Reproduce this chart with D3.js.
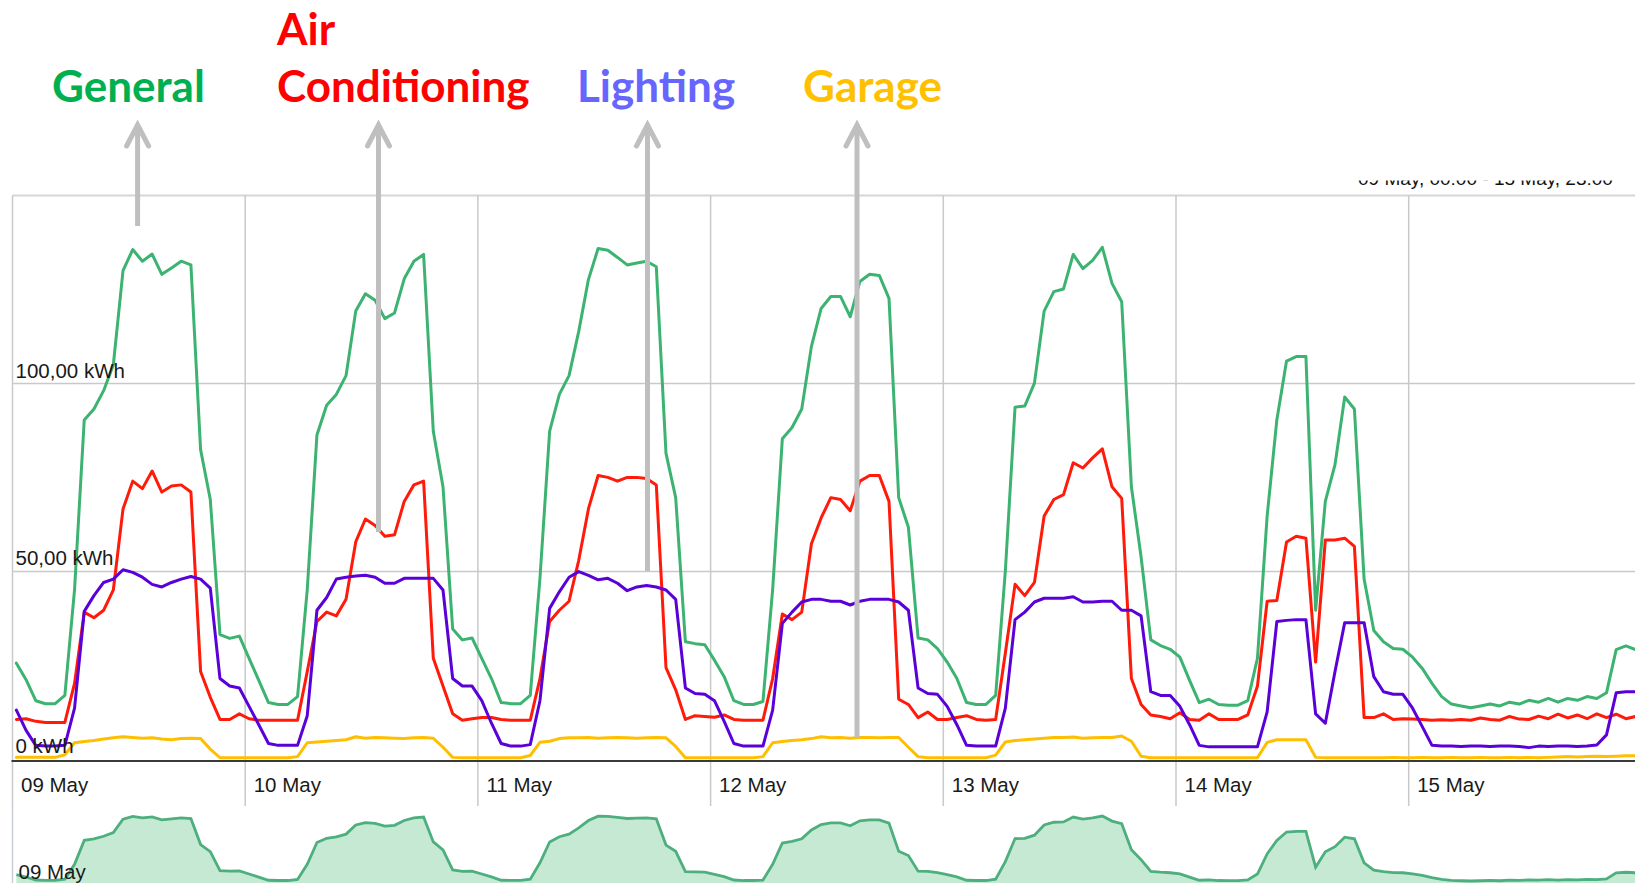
<!DOCTYPE html>
<html>
<head>
<meta charset="utf-8">
<script src="https://cdn.jsdelivr.net/npm/d3@7"></script>
<style>
  html, body { margin: 0; padding: 0; background: #ffffff; }
  svg { display: block; }
</style>
</head>
<body>
<svg id="chart" width="1635" height="883"></svg>
<script>
// ---------------- DATA (hourly kWh, 09 May 00:00 -> 15 May 23:00) ----------------
const dayLabels = ["09 May", "10 May", "11 May", "12 May", "13 May", "14 May", "15 May"];
const yTickValues = [0, 50, 100];
const yTickLabels = ["0 kWh", "50,00 kWh", "100,00 kWh"];
const seriesNames = ["General", "Air Conditioning", "Lighting", "Garage"];
const rangeTitle = "09 May, 00:00 - 15 May, 23:00";

const general = [
  25.4, 21, 15.4, 14.6, 14.6, 16.8, 45, 90.2, 93.1, 98, 104.9, 130, 135.6, 132.5, 134.4, 129, 130.7, 132.5, 131.5, 82.3, 69, 33, 32, 32.6,
  26.7, 20.8, 14.9, 14.4, 14.4, 16.5, 45, 86.2, 94.1, 97, 102, 119.2, 123.8, 122.1, 117.2, 118.7, 127.8, 132.5, 134.3, 87.2, 72.4, 34.5, 31.6, 32.1,
  26.7, 21.3, 14.9, 14.6, 14.6, 16.8, 48, 87.2, 97, 102, 113.8, 127.6, 135.9, 135.4, 133.5, 131.5, 132, 132.5, 131, 81.3, 69.5, 31.1, 30.6, 30.3,
  26.2, 21.8, 15.4, 14.4, 14.4, 15.2, 45, 85.2, 88.2, 93.1, 109.8, 119.9, 123.1, 123.1, 117.7, 127.1, 129, 128.7, 122.6, 69.5, 61.6, 32.1, 31.6, 29.3,
  25.7, 21.3, 14.9, 14.4, 14.4, 16.8, 50, 93.6, 93.9, 100, 119.2, 124.4, 125.1, 134.3, 130.5, 132.7, 136.2, 126.6, 121.7, 72.4, 53.7, 31.6, 30.1, 29.1,
  27, 20.8, 14.9, 15.8, 14.4, 14.2, 14.2, 15.4, 26.7, 64.6, 90.2, 105.9, 107.1, 107.1, 39.5, 68.5, 78.3, 96.3, 93.1, 47.8, 34.1, 31.1, 29.3, 29.1,
  27, 24, 20, 16.5, 14.5, 14, 13.5, 14, 14.5, 14, 15, 14.5, 15.5, 15, 16, 15, 16, 15.5, 16.5, 16, 17.5, 29, 30, 29
];

const airConditioning = [
  10.4, 10.6, 9.9, 9.6, 9.6, 9.6, 20, 39, 37.5, 39.5, 44.9, 66.5, 73.9, 71.9, 76.6, 71, 72.6, 72.9, 71, 23.2, 16.3, 10.4, 10.4, 11.9,
  10.6, 10.2, 10.2, 10.2, 10.2, 10.2, 23.2, 36.5, 39, 38, 42.4, 57.7, 63.8, 62.1, 59.2, 59.6, 68.5, 72.9, 73.9, 26.7, 19.3, 11.9, 10.2, 10.6,
  10.9, 10.9, 10.4, 10.2, 10.2, 10.2, 21.3, 36.5, 39.5, 41.9, 52.8, 66.5, 75.4, 74.9, 73.9, 74.9, 74.9, 74.6, 72.9, 24.2, 18.3, 10.4, 11.4, 11.2,
  11, 11.6, 10.4, 10.2, 10.2, 10.2, 21.3, 38.5, 37, 39, 57.2, 64.1, 69.5, 69, 66, 73.9, 75.4, 75.4, 68.5, 15.8, 14.4, 10.9, 12.4, 10.4,
  10.4, 10.9, 11.4, 10.4, 10.2, 10.4, 28.1, 46.4, 43.4, 46.9, 64.6, 69, 70.3, 78.8, 77.4, 80.1, 82.5, 72.4, 69.3, 21.3, 14.4, 11.6, 11.2, 10.6,
  12.2, 10.4, 10.2, 11.9, 10.4, 10.4, 10.4, 11.6, 19.3, 41.9, 42.1, 57.7, 59.2, 58.7, 25.7, 58.2, 58.2, 58.7, 56.5, 10.9, 10.9, 11.9, 10.4, 10.6,
  10.5, 10.4, 10.2, 10.3, 10.2, 10.4, 10.2, 10.8, 10.4, 10.2, 11.2, 10.5, 10.4, 11.3, 10.6, 11.8, 10.8, 11.6, 10.6, 11.9, 10.9, 11.8, 10.6, 11.2
];

const lighting = [
  12.9, 7.5, 3.5, 3.3, 3.3, 3.5, 13.4, 39.2, 43.4, 46.9, 47.8, 50.3, 49.6, 48.3, 46.4, 45.7, 46.9, 47.8, 48.5, 47.8, 45.4, 21.3, 19.3, 18.8,
  13.9, 9, 4, 3.5, 3.5, 3.5, 11.4, 39.5, 42.9, 47.8, 48.3, 48.6, 48.8, 48.3, 46.7, 46.7, 48, 48, 48, 48, 44.9, 21.3, 19.3, 19.3,
  15.4, 9.4, 4, 3.3, 3.3, 3.7, 15.4, 40, 44.4, 48.3, 49.8, 48.8, 47.6, 48, 46.7, 44.7, 45.7, 46.1, 45.7, 44.9, 42.4, 18.8, 17.3, 17.1,
  15.4, 9.9, 4, 3.3, 3.3, 3.3, 12.9, 36, 39, 41.7, 42.4, 42.4, 41.9, 41.9, 40.9, 41.9, 42.4, 42.4, 42.4, 41.7, 39.5, 18.8, 17.3, 17.1,
  13.9, 9, 3.5, 3.3, 3.3, 3.3, 13.4, 37, 39, 41.7, 42.7, 42.7, 42.7, 43.1, 41.7, 41.7, 41.9, 41.9, 39.5, 39.5, 38, 17.8, 16.8, 16.8,
  13.9, 9, 3.5, 3.1, 3.1, 3.1, 3.1, 3.1, 3.1, 12.4, 36.5, 36.8, 37, 37, 11.9, 9.4, 23.2, 36.2, 36.2, 36.2, 21.8, 17.8, 17.1, 17.1,
  13.4, 8.5, 3.5, 3.3, 3.3, 3.2, 3.3, 3.3, 3.2, 3.3, 3.3, 3.2, 2.9, 3.3, 3.2, 3.3, 3.3, 3.2, 3.3, 3.6, 6.3, 17.5, 17.8, 17.8
];

const garage = [
  0.3, 0.3, 0.3, 0.3, 0.3, 1.0, 4.2, 4.5, 4.8, 5.2, 5.5, 5.8, 5.6, 5.4, 5.5, 5.2, 5.0, 5.3, 5.4, 5.3, 2.5, 0.2, 0.2, 0.2,
  0.2, 0.2, 0.2, 0.2, 0.2, 0.5, 4.2, 4.4, 4.6, 4.8, 5.0, 5.8, 5.4, 5.6, 5.5, 5.4, 5.3, 5.5, 5.6, 5.4, 3.0, 0.3, 0.2, 0.2,
  0.2, 0.2, 0.2, 0.2, 0.2, 0.8, 4.3, 4.6, 5.3, 5.5, 5.5, 5.6, 5.4, 5.5, 5.6, 5.5, 5.4, 5.5, 5.6, 5.5, 3.2, 0.2, 0.2, 0.2,
  0.2, 0.2, 0.2, 0.2, 0.2, 0.5, 4.2, 4.5, 4.8, 5.0, 5.3, 5.8, 5.5, 5.6, 5.4, 5.6, 5.6, 5.5, 5.6, 5.6, 3.0, 0.5, 0.2, 0.2,
  0.2, 0.2, 0.2, 0.2, 0.2, 0.9, 4.4, 4.8, 5.0, 5.2, 5.4, 5.6, 5.6, 5.7, 5.4, 5.5, 5.6, 5.6, 6.0, 4.6, 0.6, 0.2, 0.2, 0.2,
  0.2, 0.2, 0.2, 0.2, 0.2, 0.2, 0.2, 0.2, 0.2, 4.3, 5.0, 5.0, 5.0, 5.0, 0.3, 0.2, 0.2, 0.2, 0.2, 0.2, 0.2, 0.2, 0.3, 0.2,
  0.2, 0.3, 0.2, 0.2, 0.3, 0.2, 0.2, 0.3, 0.2, 0.2, 0.3, 0.2, 0.3, 0.2, 0.3, 0.4, 0.5, 0.4, 0.5, 0.6, 0.5, 0.6, 0.7, 0.7
];

// ---------------- LAYOUT ----------------
const W = 1635, H = 883;
const plotLeft = 12.5, plotTop = 195.5, zeroY = 758.5, axisY = 761;
const dayWidth = 232.7;
const startT = Date.UTC(2015, 4, 9);
const endT = Date.UTC(2015, 4, 16);
const HOUR = 3600e3;

const svg = d3.select("#chart");

const x = d3.scaleUtc().domain([startT, endT]).range([plotLeft, plotLeft + 7 * dayWidth]);
const y = d3.scaleLinear().domain([0, 150]).range([zeroY, plotTop]);
const times = general.map((_, i) => new Date(startT + (i + 0.4) * HOUR));
const dayTicks = dayLabels.map((_, i) => new Date(startT + i * 24 * HOUR));

const gridColor = "#c9c9c9";

// Top border
svg.append("line").attr("x1", plotLeft).attr("x2", W).attr("y1", plotTop).attr("y2", plotTop)
  .attr("stroke", "#d6d6d6").attr("stroke-width", 2);

// Horizontal gridlines
svg.append("g").selectAll("line").data(yTickValues.filter(v => v > 0)).join("line")
  .attr("x1", plotLeft).attr("x2", W)
  .attr("y1", d => Math.round(y(d)) + 0.5).attr("y2", d => Math.round(y(d)) + 0.5)
  .attr("stroke", gridColor).attr("stroke-width", 1.5);

// Vertical day gridlines (extend below axis as ticks)
svg.append("g").selectAll("line").data(dayTicks).join("line")
  .attr("x1", d => x(d)).attr("x2", d => x(d))
  .attr("y1", plotTop).attr("y2", 806)
  .attr("stroke", gridColor).attr("stroke-width", 1.5);

// Navigator left border
svg.append("line").attr("x1", plotLeft).attr("x2", plotLeft).attr("y1", 806).attr("y2", H)
  .attr("stroke", "#c9ced6").attr("stroke-width", 1.5);

// Clip for plot
svg.append("clipPath").attr("id", "plotClip").append("rect")
  .attr("x", plotLeft).attr("y", plotTop - 5).attr("width", W - plotLeft).attr("height", axisY - plotTop + 5);

const line = d3.line().x((d, i) => x(times[i])).y(d => y(d)).curve(d3.curveLinear);

const seriesData = [
  { values: general, color: "#3cb371" },
  { values: airConditioning, color: "#ff1a0a" },
  { values: lighting, color: "#5a00d8" },
  { values: garage, color: "#ffbf00" }
];

const gLines = svg.append("g").attr("clip-path", "url(#plotClip)");
gLines.selectAll("path").data(seriesData).join("path")
  .attr("d", d => line(d.values))
  .attr("fill", "none")
  .attr("stroke", d => d.color)
  .attr("stroke-width", 3)
  .attr("stroke-linejoin", "round")
  .attr("stroke-linecap", "round");

// X axis line
svg.append("line").attr("x1", plotLeft - 1).attr("x2", W).attr("y1", axisY).attr("y2", axisY)
  .attr("stroke", "#3a3a3a").attr("stroke-width", 2);

// X axis labels
const xAxis = d3.axisBottom(x).tickValues(dayTicks).tickFormat((d, i) => dayLabels[i]).tickSize(0);
const gx = svg.append("g").attr("transform", `translate(0,${axisY})`).call(xAxis);
gx.select(".domain").remove();
gx.selectAll("text")
  .attr("text-anchor", "start").attr("x", 8).attr("y", 0).attr("dy", 31)
  .attr("font-family", "'Liberation Sans', Arial, sans-serif").attr("font-size", 20.5).attr("fill", "#1a1a1a");

// Y axis labels (inside plot, above gridlines)
const yAxis = d3.axisRight(y).tickValues(yTickValues).tickFormat((d, i) => yTickLabels[i]).tickSize(0);
const gy = svg.append("g").attr("transform", `translate(${plotLeft + 3},0)`).call(yAxis);
gy.select(".domain").remove();
gy.selectAll("text")
  .attr("x", 0).attr("dy", -6).attr("text-anchor", "start")
  .attr("font-family", "'Liberation Sans', Arial, sans-serif").attr("font-size", 20.5).attr("fill", "#1a1a1a");

// Navigator (general series, area)
const navY = d3.scaleLinear().domain(d3.extent(general)).range([881, 816]);
const navArea = d3.area().x((d, i) => x(times[i])).y0(900).y1(d => navY(d));
const navLine = d3.line().x((d, i) => x(times[i])).y(d => navY(d));
svg.append("clipPath").attr("id", "navClip").append("rect")
  .attr("x", plotLeft).attr("y", 806).attr("width", W - plotLeft).attr("height", 100);
const gNav = svg.append("g").attr("clip-path", "url(#navClip)");
gNav.append("path").attr("d", navArea(general)).attr("fill", "#c6e9d4");
gNav.append("path").attr("d", navLine(general)).attr("fill", "none").attr("stroke", "#4caf7d").attr("stroke-width", 2.8);
svg.append("text").attr("x", x(dayTicks[0]) + 6).attr("y", 879)
  .attr("font-family", "'Liberation Sans', Arial, sans-serif").attr("font-size", 20.5).attr("fill", "#1a1a1a")
  .text(dayLabels[0]);

// Range title (partly hidden behind the annotation band)
svg.append("clipPath").attr("id", "titleClip").append("rect")
  .attr("x", 0).attr("y", 180.5).attr("width", W).attr("height", 14);
svg.append("text").attr("clip-path", "url(#titleClip)")
  .attr("x", 1358).attr("y", 185)
  .attr("font-family", "'Liberation Sans', Arial, sans-serif").attr("font-size", 19).attr("fill", "#111")
  .text(rangeTitle);

// ---------------- ANNOTATIONS ----------------
const labelFont = "Lato, 'Open Sans', sans-serif";
const annotations = [
  { lines: [seriesNames[0]], color: "#00b050", tx: 52, arrowX: 137.6, arrowBottom: 226 },
  { lines: ["Air", "Conditioning"], color: "#ff0000", tx: 277, arrowX: 378.5, arrowBottom: 532 },
  { lines: [seriesNames[2]], color: "#6666ff", tx: 577, arrowX: 647.5, arrowBottom: 571 },
  { lines: [seriesNames[3]], color: "#ffc000", tx: 803, arrowX: 857, arrowBottom: 737 }
];
const tipY = 124;
const gAnn = svg.append("g");
annotations.forEach(a => {
  const n = a.lines.length;
  a.lines.forEach((s, k) => {
    gAnn.append("text").attr("font-family", labelFont).attr("font-weight", 700)
      .attr("font-size", 44).attr("fill", a.color)
      .attr("x", a.tx).attr("y", 102 - (n - 1 - k) * 57).text(s);
  });
  gAnn.append("line").attr("x1", a.arrowX).attr("x2", a.arrowX)
    .attr("y1", a.arrowBottom).attr("y2", tipY + 3)
    .attr("stroke", "#bfbfbf").attr("stroke-width", 5);
  gAnn.append("path")
    .attr("d", d3.line()([[a.arrowX - 11, tipY + 22], [a.arrowX, tipY + 1], [a.arrowX + 11, tipY + 22]]))
    .attr("fill", "none").attr("stroke", "#bfbfbf").attr("stroke-width", 5)
    .attr("stroke-linejoin", "miter").attr("stroke-linecap", "round");
});
</script>
</body>
</html>
